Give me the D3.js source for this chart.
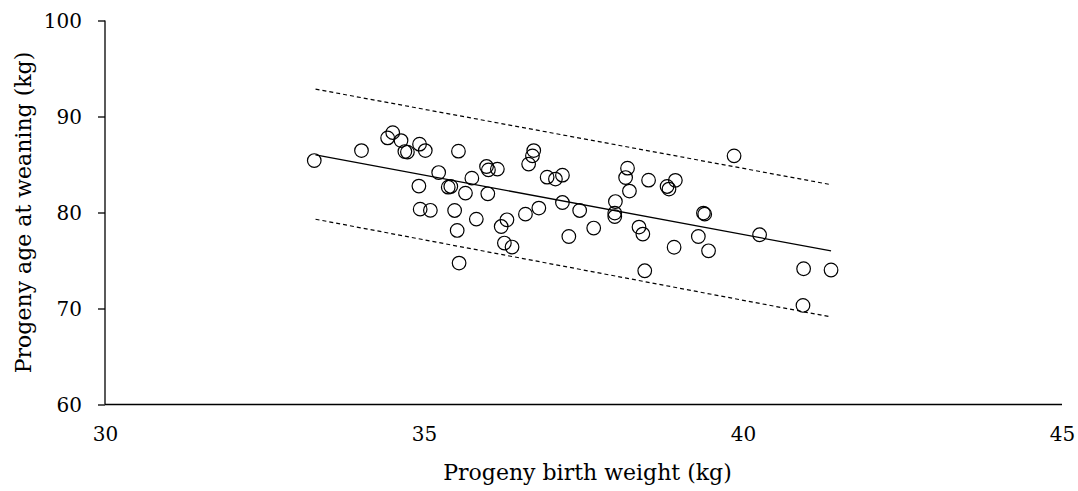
<!DOCTYPE html>
<html>
<head>
<meta charset="utf-8">
<script src="https://cdn.jsdelivr.net/npm/d3@7"></script>
<style>
  html, body { margin: 0; padding: 0; background: #fff; }
  svg { display: block; }
  text { font-family: "DejaVu Serif", "Liberation Serif", serif; fill: #000; }
</style>
</head>
<body>
<svg id="chart" width="1078" height="491"></svg>
<script>
// ---- Data ----
const birthWeight = [
  33.28, 34.02, 34.43, 34.51, 34.64, 34.70, 34.74, 34.93, 35.02, 35.54,
  35.23, 35.75, 34.92, 35.38, 35.42, 35.65, 34.94, 35.10, 35.48, 35.82,
  35.52, 35.55, 35.98, 36.01, 36.15, 36.72, 36.70, 36.64, 36.93, 37.06,
  37.17, 38.19, 38.16, 38.22, 38.52, 38.81, 38.84, 38.94, 36.00, 37.17,
  37.44, 38.00, 37.99, 37.99, 36.80, 36.59, 36.30, 36.21, 37.66, 38.37,
  38.43, 37.27, 36.26, 36.38, 38.92, 38.46, 39.86, 39.38, 39.40, 39.30,
  39.46, 40.26, 40.95, 41.38, 40.94
];
const weaningValue = [
  85.41, 86.45, 87.77, 88.32, 87.49, 86.35, 86.29, 87.12, 86.45, 86.39,
  84.16, 83.58, 82.75, 82.64, 82.71, 82.02, 80.35, 80.23, 80.21, 79.31,
  78.13, 74.73, 84.79, 84.44, 84.52, 86.45, 85.90, 85.04, 83.68, 83.48,
  83.89, 84.62, 83.64, 82.23, 83.37, 82.71, 82.44, 83.35, 81.95, 81.04,
  80.21, 81.14, 79.94, 79.58, 80.46, 79.83, 79.24, 78.54, 78.38, 78.48,
  77.75, 77.50, 76.82, 76.40, 76.38, 73.93, 85.90, 79.94, 79.83, 77.50,
  76.01, 77.68, 74.14, 74.01, 70.32
];
// Fitted line and band end points
const fitX = [33.3, 41.38];
const fitY = [86.0, 76.0];
const upperY = [92.85, 82.9];
const lowerY = [79.3, 69.12];

const xTicks = [30, 35, 40, 45];
const yTicks = [60, 70, 80, 90, 100];
const xTitle = "Progeny birth weight (kg)";
const yTitle = "Progeny age at weaning (kg)";

// ---- Layout ----
const svg = d3.select("#chart");
const x = d3.scaleLinear().domain([30, 45]).range([105, 1062]);
const y = d3.scaleLinear().domain([60, 100]).range([404.5, 20.5]);

// Axes
const yAxis = d3.axisLeft(y).tickValues(yTicks).tickSize(7).tickPadding(16).tickFormat(d3.format("d"));
const gy = svg.append("g").attr("transform", `translate(${x(30)},0)`).call(yAxis);
gy.select(".domain").attr("d", `M0,${y(100)}V${y(60)}`);

const xAxis = d3.axisBottom(x).tickValues(xTicks).tickSize(0).tickPadding(22).tickFormat(d3.format("d"));
const gx = svg.append("g").attr("transform", `translate(0,${y(60)})`).call(xAxis);
gx.select(".domain").attr("d", `M${x(30)},0H${x(45)}`);

svg.selectAll(".domain, .tick line").attr("stroke", "#000").attr("stroke-width", 1.3);
svg.selectAll(".tick text").style("font-size", "20px").style("font-family", '"DejaVu Serif", serif');
gy.selectAll(".tick text").attr("dy", "0.35em");

// Axis titles
svg.append("text")
  .attr("x", (x(30) + x(45)) / 2 + 4)
  .attr("y", 480)
  .attr("text-anchor", "middle")
  .style("font-size", "22px")
  .text(xTitle);

svg.append("text")
  .attr("transform", `translate(30.5,${(y(60)+y(100))/2}) rotate(-90)`)
  .attr("text-anchor", "middle")
  .style("font-size", "22px")
  .text(yTitle);

// Lines
const line = d3.line().x(d => x(d[0])).y(d => y(d[1]));
svg.append("path")
  .datum(fitX.map((v, i) => [v, fitY[i]]))
  .attr("d", line).attr("fill", "none").attr("stroke", "#000").attr("stroke-width", 1.3);
svg.append("path")
  .datum(fitX.map((v, i) => [v, upperY[i]]))
  .attr("d", line).attr("fill", "none").attr("stroke", "#000").attr("stroke-width", 1.2)
  .attr("stroke-dasharray", "4,3");
svg.append("path")
  .datum(fitX.map((v, i) => [v, lowerY[i]]))
  .attr("d", line).attr("fill", "none").attr("stroke", "#000").attr("stroke-width", 1.2)
  .attr("stroke-dasharray", "4,3");

// Points
svg.append("g").selectAll("circle")
  .data(birthWeight.map((v, i) => [v, weaningValue[i]]))
  .join("circle")
  .attr("cx", d => x(d[0]))
  .attr("cy", d => y(d[1]))
  .attr("r", 6.8)
  .attr("fill", "none")
  .attr("stroke", "#000")
  .attr("stroke-width", 1.2);
</script>
</body>
</html>
